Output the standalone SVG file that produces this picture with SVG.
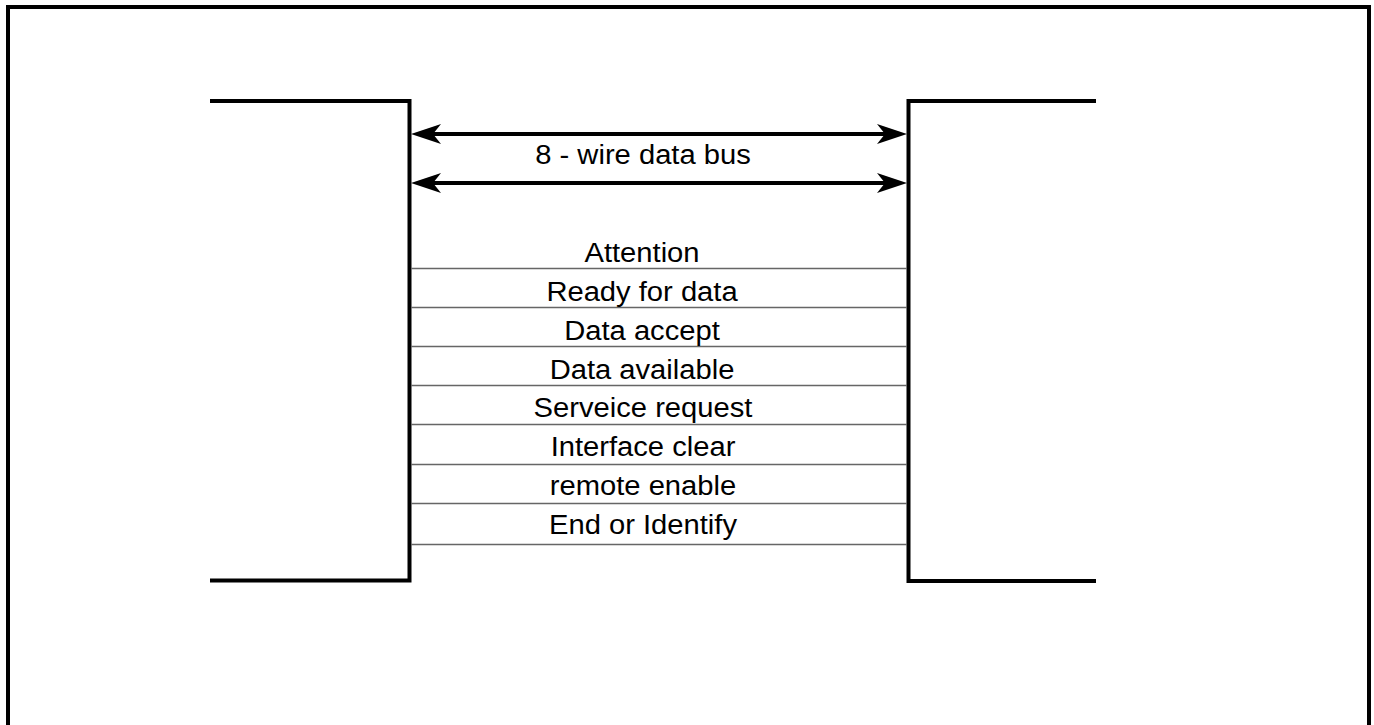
<svg xmlns="http://www.w3.org/2000/svg" width="1374" height="725" viewBox="0 0 1374 725">
<style>
.thick{fill:none;stroke:#000;stroke-width:4;stroke-linejoin:miter}
.bus{stroke:#000;stroke-width:4}
.sig{stroke:#666;stroke-width:1.3}
text{font-family:"Liberation Sans",Arial,sans-serif;font-size:27px;fill:#000;text-anchor:middle}
</style>
<defs>
<marker id="ah" markerUnits="userSpaceOnUse" markerWidth="34" markerHeight="24" viewBox="-22 -12 34 24" refX="0" refY="0" orient="auto-start-reverse">
<path d="M10,0 L-20,-10 L-12,0 L-20,10 Z" fill="#000"/>
</marker>
</defs>
<rect width="1374" height="725" fill="#fff"/>
<path id="frame" class="thick" d="M8,730 V7 H1369 V730"/>
<g id="deviceA"><path class="thick" d="M210,101 H409.5 V580.5 H210"/></g>
<g id="deviceB"><path class="thick" d="M1096,101 H908.5 V581 H1096"/></g>
<g id="connectors">
<line class="bus" x1="421" y1="134" x2="897" y2="134" marker-start="url(#ah)" marker-end="url(#ah)"/>
<line class="bus" x1="421" y1="183" x2="897" y2="183" marker-start="url(#ah)" marker-end="url(#ah)"/>
<line class="sig" x1="411" y1="268.5" x2="907" y2="268.5"/>
<line class="sig" x1="411" y1="307.5" x2="907" y2="307.5"/>
<line class="sig" x1="411" y1="346.5" x2="907" y2="346.5"/>
<line class="sig" x1="411" y1="385.5" x2="907" y2="385.5"/>
<line class="sig" x1="411" y1="424.5" x2="907" y2="424.5"/>
<line class="sig" x1="411" y1="464.5" x2="907" y2="464.5"/>
<line class="sig" x1="411" y1="503.5" x2="907" y2="503.5"/>
<line class="sig" x1="411" y1="544.5" x2="907" y2="544.5"/>
</g>
<g id="labels">
<text transform="translate(643,164) scale(1.08,1)">8 - wire data bus</text>
<text transform="translate(642,262) scale(1.08,1)">Attention</text>
<text transform="translate(642,301) scale(1.08,1)">Ready for data</text>
<text transform="translate(642,340) scale(1.08,1)">Data accept</text>
<text transform="translate(642,378.5) scale(1.08,1)">Data available</text>
<text transform="translate(643,416.5) scale(1.08,1)">Serveice request</text>
<text transform="translate(643,455.5) scale(1.08,1)">Interface clear</text>
<text transform="translate(643,495) scale(1.08,1)">remote enable</text>
<text transform="translate(643,533.5) scale(1.08,1)">End or Identify</text>
</g>
</svg>
